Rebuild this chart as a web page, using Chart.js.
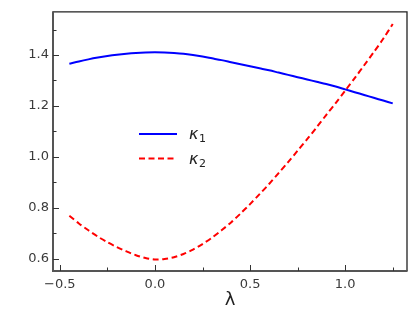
<!DOCTYPE html>
<html>
<head>
<meta charset="utf-8">
<script src="https://cdn.jsdelivr.net/npm/chart.js@4.4.1/dist/chart.umd.min.js"></script>
<style>
  html, body { margin: 0; padding: 0; background: #fff; }
  #wrap { width: 415px; height: 312px; }
</style>
</head>
<body>
<div id="wrap"><canvas id="chart" width="415" height="312"></canvas></div>
<script>
// data
const lambda = [-0.45, -0.40, -0.35, -0.30, -0.25, -0.20, -0.15, -0.10, -0.05, 0.00,
  0.05, 0.10, 0.15, 0.20, 0.25, 0.30, 0.35, 0.40, 0.45, 0.50,
  0.55, 0.60, 0.65, 0.70, 0.75, 0.80, 0.85, 0.90, 0.95, 1.00,
  1.05, 1.10, 1.15, 1.20, 1.25];
const kappa1 = [1.366, 1.375, 1.383, 1.390, 1.396, 1.401, 1.405, 1.408, 1.410, 1.411,
  1.410, 1.408, 1.405, 1.400, 1.394, 1.387, 1.380, 1.372, 1.364, 1.356,
  1.348, 1.340, 1.331, 1.322, 1.313, 1.304, 1.295, 1.286, 1.276, 1.265,
  1.254, 1.243, 1.232, 1.221, 1.210];
const kappa2 = [0.768, 0.738, 0.711, 0.686, 0.664, 0.645, 0.628, 0.613, 0.602, 0.596,
  0.598, 0.605, 0.618, 0.635, 0.657, 0.682, 0.711, 0.742, 0.777, 0.814,
  0.853, 0.893, 0.936, 0.979, 1.024, 1.069, 1.116, 1.164, 1.211, 1.260,
  1.309, 1.360, 1.411, 1.464, 1.522];

const xTicks = [-0.5, 0.0, 0.5, 1.0];
const xMinor = [-0.25, 0.25, 0.75, 1.25];
const yTicks = [0.6, 0.8, 1.0, 1.2, 1.4];
const yMinor = [0.7, 0.9, 1.1, 1.3, 1.5];
const seriesNames = ['\u03ba1', '\u03ba2'];

const toXY = ys => lambda.map((x, i) => ({ x, y: ys[i] }));
const fmt = v => (v < 0 ? '\u2212' : '') + Math.abs(v).toFixed(1);

// inward ticks, frame and the in-plot legend
const framePlugin = {
  id: 'frame',
  afterDraw(chart) {
    const { ctx, chartArea: a, scales } = chart;
    ctx.save();
    // top + right: thin dark
    ctx.strokeStyle = '#222';
    ctx.lineWidth = 1.3;
    ctx.beginPath();
    ctx.moveTo(a.left, a.top);
    ctx.lineTo(a.right, a.top);
    ctx.lineTo(a.right, a.bottom);
    ctx.stroke();
    // left + bottom: a bit heavier, grey
    ctx.strokeStyle = '#555';
    ctx.lineWidth = 2;
    ctx.beginPath();
    ctx.moveTo(a.left, a.top - 0.6);
    ctx.lineTo(a.left, a.bottom);
    ctx.lineTo(a.right + 0.6, a.bottom);
    ctx.stroke();

    ctx.lineWidth = 1;
    ctx.strokeStyle = '#333';
    const tick = (vals, len, axis) => {
      vals.forEach(v => {
        ctx.beginPath();
        if (axis === 'x') {
          const px = Math.round(scales.x.getPixelForValue(v)) + 0.5;
          ctx.moveTo(px, a.bottom);
          ctx.lineTo(px, a.bottom - len);
        } else {
          const py = Math.round(scales.y.getPixelForValue(v)) + 0.5;
          ctx.moveTo(a.left, py);
          ctx.lineTo(a.left + len, py);
        }
        ctx.stroke();
      });
    };
    tick(xTicks, 6, 'x');
    tick(xMinor, 3.5, 'x');
    tick(yTicks, 6, 'y');
    tick(yMinor, 3.5, 'y');

    // legend
    chart.data.datasets.forEach((ds, i) => {
      const y = 134 + i * 24.5;
      ctx.beginPath();
      ctx.strokeStyle = ds.borderColor;
      ctx.lineWidth = ds.borderWidth;
      ctx.setLineDash(ds.borderDash || []);
      ctx.moveTo(139, y);
      ctx.lineTo(177, y);
      ctx.stroke();
      ctx.setLineDash([]);
      ctx.fillStyle = '#222';
      ctx.textBaseline = 'alphabetic';
      ctx.font = 'oblique 16px "DejaVu Sans"';
      ctx.fillText('\u03ba', 189, y + 5);
      ctx.font = '11px "DejaVu Sans"';
      ctx.fillText(seriesNames[i].slice(1), 199, y + 8);
    });
    ctx.restore();
  }
};

new Chart(document.getElementById('chart'), {
  type: 'scatter',
  data: {
    datasets: [{
      label: seriesNames[0],
      data: toXY(kappa1),
      showLine: true,
      borderColor: '#0000ff',
      borderWidth: 2,
      pointRadius: 0,
      tension: 0.3
    }, {
      label: seriesNames[1],
      data: toXY(kappa2),
      showLine: true,
      borderColor: '#ff0000',
      borderWidth: 2,
      borderDash: [6, 3.5],
      pointRadius: 0,
      tension: 0.3
    }]
  },
  options: {
    responsive: false,
    animation: false,
    layout: { padding: { left: 0, top: 6, right: 8, bottom: 0 } },
    plugins: {
      legend: { display: false },
      tooltip: { enabled: false }
    },
    scales: {
      x: {
        type: 'linear',
        min: -0.536,
        max: 1.325,
        grid: { display: false, drawTicks: false },
        border: { display: false },
        afterBuildTicks: s => { s.ticks = xTicks.map(value => ({ value })); },
        afterFit: s => { s.height = 41; },
        ticks: {
          color: '#3a3a3a',
          padding: 6,
          font: { family: 'DejaVu Sans', size: 13 },
          callback: v => fmt(v)
        },
        title: {
          display: true,
          text: '\u03bb',
          color: '#222',
          padding: { top: 0, bottom: 1 },
          font: { family: 'DejaVu Sans', size: 18 }
        }
      },
      y: {
        min: 0.551,
        max: 1.57,
        grid: { display: false, drawTicks: false },
        border: { display: false },
        afterBuildTicks: s => { s.ticks = yTicks.map(value => ({ value })); },
        afterFit: s => { s.width = 53; },
        ticks: {
          color: '#3a3a3a',
          padding: 4,
          font: { family: 'DejaVu Sans', size: 13 },
          callback: v => fmt(v)
        }
      }
    }
  },
  plugins: [framePlugin]
});
</script>
</body>
</html>
